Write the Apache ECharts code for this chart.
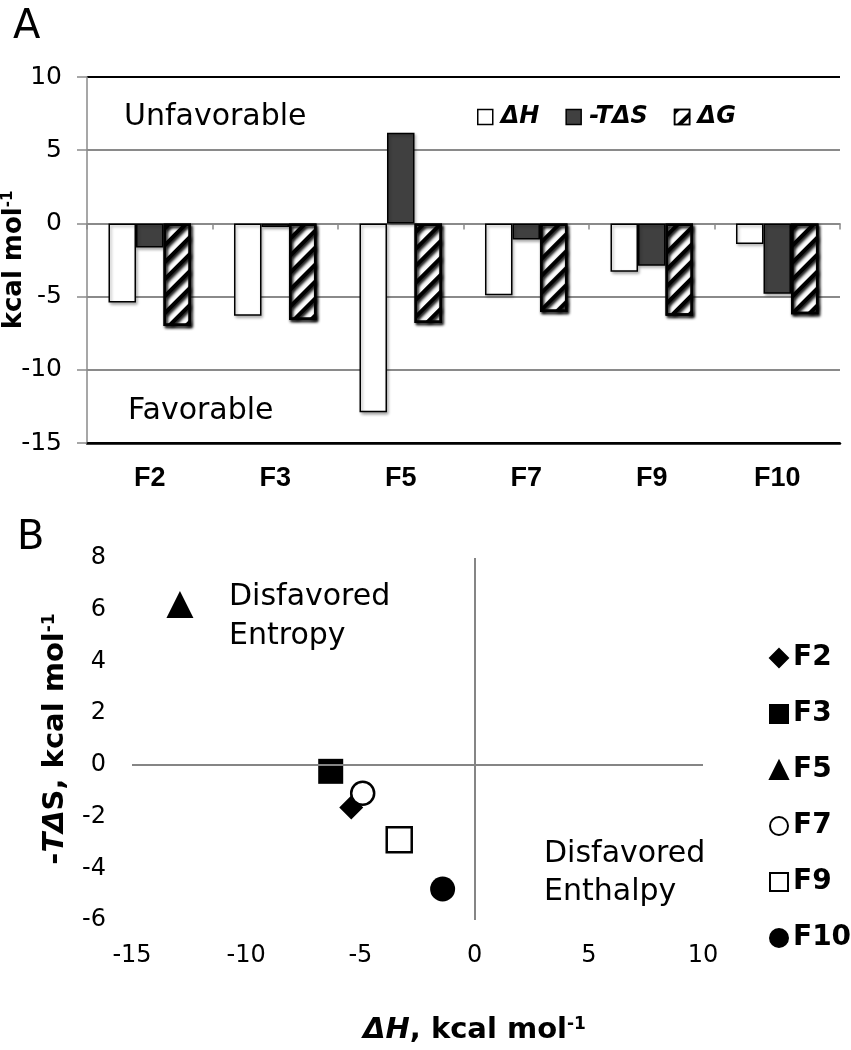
<!DOCTYPE html>
<html><head><meta charset="utf-8">
<script src="https://cdn.jsdelivr.net/npm/echarts@6/dist/echarts.min.js"></script>
<style>html,body{margin:0;padding:0;background:#fff}#c{width:851px;height:1050px}</style>
</head><body><div id="c"></div>
<script>
// ---- data ----
const categories = ['F2', 'F3', 'F5', 'F7', 'F9', 'F10'];
const deltaH   = [-5.4, -6.3, -12.9, -4.9, -3.3, -1.4];
const minusTdS = [-1.65, -0.25, 6.2, -1.1, -2.9, -4.8];
const deltaG   = [-7.0, -6.6, -6.8, -6.05, -6.3, -6.2];
const barSeriesNames = ['ΔH', '-TΔS', 'ΔG'];
const barAxisRange = { min: -15, max: 10, interval: 5 };
const scatterXRange = { min: -15, max: 10, interval: 5 };
const scatterYRange = { min: -6, max: 8, interval: 2 };

// ---- styles ----
const REG = 'DejaVu Sans';
const BOLD = 'Liberation Sans';
const GRIDGRAY = '#8a8a8a';
const shapes = ['diamond', 'rect', 'triangle', 'circle', 'rect', 'circle'];
const fills = ['#000', '#000', '#000', '#fff', '#fff', '#000'];
const sizes = [24, 25, 27, 23, 25, 25];

const chart = echarts.init(document.getElementById('c'), null, { renderer: 'canvas' });

const barShadow = { shadowColor: 'rgba(0,0,0,0.3)', shadowBlur: 3, shadowOffsetX: 1.5, shadowOffsetY: 2 };

const series = [
  {
    type: 'bar', name: barSeriesNames[0], xAxisIndex: 0, yAxisIndex: 0, data: deltaH,
    barWidth: 27.5, barGap: '0%',
    itemStyle: Object.assign({ color: '#fff', borderColor: '#000', borderWidth: 1.5 }, barShadow)
  },
  {
    type: 'bar', name: barSeriesNames[1], xAxisIndex: 0, yAxisIndex: 0, data: minusTdS,
    barWidth: 27.5, barGap: '0%',
    itemStyle: Object.assign({ color: '#404040', borderColor: '#000', borderWidth: 1.5 }, barShadow)
  },
  {
    type: 'bar', name: barSeriesNames[2], xAxisIndex: 0, yAxisIndex: 0, data: deltaG,
    barWidth: 27.5, barGap: '0%',
    itemStyle: Object.assign({
      color: '#fff', borderColor: '#000', borderWidth: 2.5,
      decal: { symbol: 'rect', symbolSize: 1, color: '#000', dashArrayX: [1, 0], dashArrayY: [4, 8], rotation: -Math.PI / 4 }
    }, barShadow)
  }
];

categories.forEach((name, i) => {
  const s = {
    type: 'scatter', name: name, xAxisIndex: 2, yAxisIndex: 1,
    data: [[deltaH[i], minusTdS[i]]],
    symbol: shapes[i], symbolSize: sizes[i],
    itemStyle: { color: fills[i], borderColor: '#000', borderWidth: fills[i] === '#fff' ? 2.5 : 0, opacity: 1 },
    z: 3 + i
  };
  if (i === 0) {
    s.markLine = {
      silent: true, symbol: 'none', label: { show: false },
      lineStyle: { color: '#858585', width: 2, type: 'solid' },
      data: [{ xAxis: 0 }, { yAxis: 0 }]
    };
  }
  series.push(s);
});

const supRich = (size) => ({
  sup: { fontFamily: REG, fontWeight: 'bold', fontSize: size, verticalAlign: 'top', color: '#000' },
  it: { fontFamily: REG, fontWeight: 'bold', fontStyle: 'italic', fontSize: 29, color: '#000' }
});

const option = {
  animation: false,
  backgroundColor: '#fff',
  grid: [
    { left: 87, top: 77, width: 753, height: 366, outerBoundsMode: 'none', containLabel: false },
    { left: 132, top: 558, width: 571, height: 362, outerBoundsMode: 'none', containLabel: false }
  ],
  xAxis: [
    {
      gridIndex: 0, type: 'category', data: categories, position: 'bottom',
      axisLine: { onZero: false, lineStyle: { color: '#000', width: 2.5 } },
      axisTick: { show: false },
      axisLabel: { margin: 22, fontFamily: BOLD, fontWeight: 'bold', fontSize: 27, color: '#000' },
      splitLine: { show: false }
    },
    {
      gridIndex: 0, type: 'category', data: categories, position: 'top',
      axisLine: { onZero: true, lineStyle: { color: GRIDGRAY, width: 1.5 } },
      axisTick: { show: true, inside: true, length: 6, lineStyle: { color: GRIDGRAY, width: 1.5 } },
      axisLabel: { show: false }, splitLine: { show: false }
    },
    {
      gridIndex: 1, type: 'value', min: scatterXRange.min, max: scatterXRange.max, interval: scatterXRange.interval,
      axisLine: { show: false, onZero: false }, axisTick: { show: false }, splitLine: { show: false },
      axisLabel: { margin: 24, fontFamily: REG, fontSize: 24, color: '#000' },
      name: '{it|ΔH}, kcal mol{sup|-1}', nameLocation: 'middle', nameGap: 96, nameMoveOverlap: false,
      nameTextStyle: { fontFamily: REG, fontWeight: 'bold', fontSize: 29, color: '#000', padding: [0, 0, 0, 114], rich: supRich(17) }
    }
  ],
  yAxis: [
    {
      gridIndex: 0, type: 'value', min: barAxisRange.min, max: barAxisRange.max, interval: barAxisRange.interval,
      axisLine: { show: true, onZero: false, lineStyle: { color: GRIDGRAY, width: 1.5 } },
      axisTick: { show: true, length: 10, lineStyle: { color: GRIDGRAY, width: 1.5 } },
      splitLine: { show: true, lineStyle: { color: ['#000', GRIDGRAY, GRIDGRAY, GRIDGRAY, GRIDGRAY, '#000'], width: 1.8 } },
      axisLabel: { margin: 25, fontFamily: REG, fontSize: 25, color: '#000' },
      name: 'kcal mol{sup|-1}', nameLocation: 'middle', nameGap: 60, nameMoveOverlap: false,
      nameTextStyle: { fontFamily: REG, fontWeight: 'bold', fontSize: 26, color: '#000', rich: {
        sup: { fontFamily: REG, fontWeight: 'bold', fontSize: 15, verticalAlign: 'top', color: '#000' } } }
    },
    {
      gridIndex: 1, type: 'value', min: scatterYRange.min, max: scatterYRange.max, interval: scatterYRange.interval,
      axisLine: { show: false, onZero: false }, axisTick: { show: false }, splitLine: { show: false },
      axisLabel: { margin: 26, fontFamily: REG, fontSize: 24, color: '#000' },
      name: '-{it|TΔ}S, kcal mol{sup|-1}', nameLocation: 'middle', nameGap: 62, nameMoveOverlap: false,
      nameTextStyle: { fontFamily: REG, fontWeight: 'bold', fontSize: 29, color: '#000', rich: supRich(17) }
    }
  ],
  legend: [
    {
      data: barSeriesNames, left: 472, top: 100, icon: 'rect', itemWidth: 15, itemHeight: 15, itemGap: 26,
      itemStyle: { borderColor: '#000', borderWidth: 1.5 },
      textStyle: { fontFamily: REG, fontWeight: 'bold', fontStyle: 'italic', fontSize: 24, color: '#000', padding: [0, 0, 0, 3] }
    },
    {
      data: categories, orient: 'vertical', left: 764, top: 639, itemWidth: 18, itemHeight: 18, itemGap: 28,
      itemStyle: { borderColor: '#000', borderWidth: 2 },
      textStyle: { fontFamily: REG, fontWeight: 'bold', fontSize: 28, color: '#000' }
    }
  ],
  graphic: [
    { type: 'text', x: 13, y: 28, style: { text: 'A', fontFamily: REG, fontSize: 40, fill: '#000', align: 'left', verticalAlign: 'middle' } },
    { type: 'text', x: 17, y: 539, style: { text: 'B', fontFamily: REG, fontSize: 40, fill: '#000', align: 'left', verticalAlign: 'middle' } },
    { type: 'text', x: 124, y: 117, style: { text: 'Unfavorable', fontFamily: REG, fontSize: 30, fill: '#000', align: 'left', verticalAlign: 'middle' } },
    { type: 'text', x: 128, y: 411, style: { text: 'Favorable', fontFamily: REG, fontSize: 30, fill: '#000', align: 'left', verticalAlign: 'middle' } },
    { type: 'text', x: 229, y: 617, style: { text: 'Disfavored\nEntropy', fontFamily: REG, fontSize: 30, lineHeight: 39, fill: '#000', align: 'left', verticalAlign: 'middle' } },
    { type: 'text', x: 544, y: 873, style: { text: 'Disfavored\nEnthalpy', fontFamily: REG, fontSize: 30, lineHeight: 38, fill: '#000', align: 'left', verticalAlign: 'middle' } }
  ],
  series: series
};

chart.setOption(option);
</script>
</body></html>
